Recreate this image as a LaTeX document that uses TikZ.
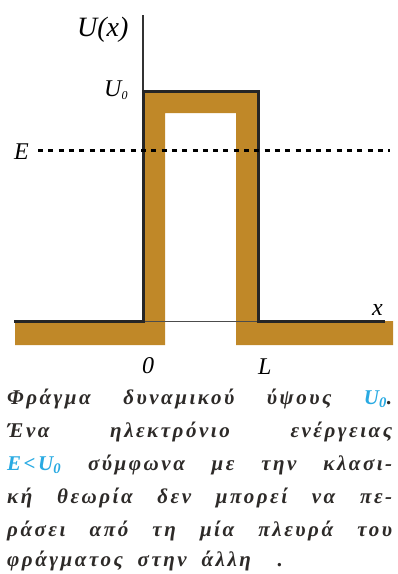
\documentclass[tikz,border=0pt]{standalone}
\usepackage{fontspec}
\setmainfont{Liberation Serif}
\newfontfamily\capfont[LetterSpace=12,WordSpace=1.9]{Liberation Serif}
\definecolor{barrier}{RGB}{192,136,40}
\definecolor{captxt}{RGB}{45,42,40}
\definecolor{capblue}{RGB}{41,170,226}
\begin{document}
\begin{tikzpicture}[x=1pt,y=-1pt,
  blk/.style={line width=3pt,black!85},
  lbl/.style={inner sep=0pt,font=\itshape\fontsize{24}{24}\selectfont},
  capline/.style={inner sep=0pt,anchor=base west,text=captxt,font=\capfont\bfseries\itshape\fontsize{21}{21}\selectfont}]
\useasboundingbox (0,0) rectangle (398,574);
% brown barrier band
\fill[barrier] (15,345) -- (165,345) -- (165,113) -- (236,113) -- (236,345) -- (393,345)
  -- (393,321) -- (258,321) -- (258,91) -- (143,91) -- (143,321) -- (15,321) -- cycle;
% thin axis under the barrier
\coordinate (a0) at (143,321);
\coordinate (aL) at (258,321);
\draw[line width=0.8pt,black!70] (a0) -- (aL);
% axis above barrier
\coordinate (top) at (143,15);
\coordinate (c0) at (143,91);
\draw[line width=2.5pt,black!80] (top) -- (c0);
% potential profile
\coordinate (l0) at (14,321);
\coordinate (cL) at (258,91);
\coordinate (r0) at (385,321);
\draw[blk,line join=miter] (l0) -- (a0) -- (c0) -- (cL) -- (aL) -- (r0);
% energy level
\coordinate (e0) at (38,150);
\coordinate (e1) at (390,150);
\draw[line width=3pt,dash pattern=on 5pt off 5.3pt] (e0) -- (e1);
% labels
\node[lbl,font=\itshape\fontsize{28}{28}\selectfont,anchor=base west] (ux) at (77,36) {U(x)};
\node[lbl,anchor=base west] (u0) at (104,96) {U\textsubscript{\fontsize{12}{12}\selectfont 0}};
\node[lbl,anchor=base west] (el) at (14,159) {E};
\node[lbl,anchor=base west] (xl) at (372,315) {x};
\node[lbl,anchor=base west] (zl) at (142,373) {0};
\node[lbl,anchor=base west] (ll) at (258,374) {L};
% caption
\node[capline] (c1) at (7,404) {\makebox[385pt][s]{Φράγμα δυναμικού ύψους \textcolor{capblue}{U\textsubscript{0}}.}};
\node[capline] (c2) at (7,437) {\makebox[385pt][s]{Ένα ηλεκτρόνιο ενέργειας}};
\node[capline] (c3) at (7,470) {\makebox[385pt][s]{\textcolor{capblue}{E<U\textsubscript{0}} σύμφωνα με την κλασι-}};
\node[capline] (c4) at (7,503) {\makebox[385pt][s]{κή θεωρία δεν μπορεί να πε-}};
\node[capline] (c5) at (7,536) {\makebox[385pt][s]{ράσει από τη μία πλευρά του}};
\node[capline] (c6) at (7,566) {φράγματος στην άλλη\hspace{12pt} .};
\end{tikzpicture}
\end{document}
